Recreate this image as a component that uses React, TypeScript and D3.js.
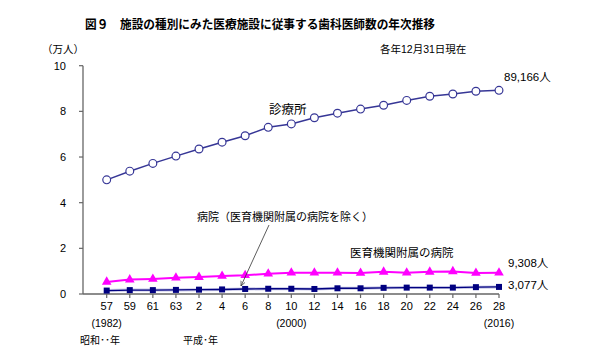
import React from "react";
import * as d3 from "d3";

const categories = ["57","59","61","63","2","4","6","8","10","12","14","16","18","20","22","24","26","28"];
const clinic = [5.0,5.38,5.72,6.04,6.35,6.65,6.93,7.3,7.45,7.72,7.92,8.1,8.27,8.48,8.66,8.76,8.88,8.92];
const univHospital = [0.53,0.63,0.66,0.71,0.74,0.79,0.82,0.89,0.93,0.93,0.93,0.92,0.97,0.93,0.97,0.99,0.92,0.93];
const otherHospital = [0.15,0.17,0.17,0.18,0.19,0.2,0.22,0.23,0.23,0.22,0.25,0.25,0.27,0.28,0.28,0.28,0.3,0.31];
const yTicks = [0,2,4,6,8,10];
const yearNotes = [{ cat: "57", text: "(1982)" },{ cat: "10", text: "(2000)" },{ cat: "28", text: "(2016)" }];

const W = 604, H = 357;
const FONT = "'Liberation Sans', 'Noto Sans CJK JP', sans-serif";
const JP = "'Noto Sans CJK JP', sans-serif";

export default function App() {
  const x = d3.scalePoint<string>().domain(categories).range([106.7, 499]).padding(0);
  const y = d3.scaleLinear().domain([0, 10]).range([294, 65.7]);
  const axisX0 = 83;
  const line = d3.line<number>().x((_, i) => x(categories[i])!).y((d) => y(d));
  const tri = d3.symbol().type(d3.symbolTriangle).size(40)()!;

  return (
    <svg width={W} height={H} style={{ position: "absolute", left: 0, top: 0, background: "#fff" }} fontFamily={FONT}>
      <defs>
        <marker id="arr" viewBox="0 0 10 10" refX="9" refY="5" markerWidth="7" markerHeight="7" orient="auto">
          <path d="M0,1 L9,5 L0,9" fill="none" stroke="#333" strokeWidth="1.2" />
        </marker>
      </defs>
      <text x={260} y={29} textAnchor="middle" fontFamily={JP} fontWeight="bold" fontSize={12.5} textLength={350} lengthAdjust="spacingAndGlyphs">図９　施設の種別にみた医療施設に従事する歯科医師数の年次推移</text>
      <text x={42} y={53} fontFamily={JP} fontSize={10.5}>（万人）</text>
      <text x={380} y={53} fontSize={10.5}>各年12月31日現在</text>

      {/* axes */}
      <line x1={axisX0} x2={axisX0} y1={y(10)} y2={y(0)} stroke="#666" strokeWidth={1.3} />
      <line x1={axisX0} x2={x("28")!} y1={y(0)} y2={y(0)} stroke="#666" strokeWidth={1.3} />
      {yTicks.map((t) => (
        <g key={t}>
          <line x1={axisX0 - 4} x2={axisX0} y1={y(t)} y2={y(t)} stroke="#666" strokeWidth={1.2} />
          <text x={66} y={y(t) + 4} textAnchor="end" fontSize={11}>{t}</text>
        </g>
      ))}
      {categories.map((c) => (
        <g key={c}>
          <line x1={x(c)!} x2={x(c)!} y1={y(0)} y2={y(0) + 4} stroke="#666" strokeWidth={1.2} />
          <text x={x(c)!} y={310} textAnchor="middle" fontSize={11}>{c}</text>
        </g>
      ))}
      {yearNotes.map((n) => (
        <text key={n.text} x={x(n.cat)!} y={327} textAnchor="middle" fontSize={10.5}>{n.text}</text>
      ))}
      <text x={80} y={344} fontFamily={JP} fontSize={10}>昭和･･年</text>
      <text x={183} y={344} fontFamily={JP} fontSize={10}>平成･年</text>

      {/* clinic */}
      <path d={line(clinic)!} fill="none" stroke="#363696" strokeWidth={1.5} />
      {clinic.map((v, i) => (
        <circle key={i} cx={x(categories[i])!} cy={y(v)} r={3.9} fill="#fff" stroke="#363696" strokeWidth={1.2} />
      ))}

      {/* univ hospital */}
      <path d={line(univHospital)!} fill="none" stroke="#ff00ff" strokeWidth={2} />
      {univHospital.map((v, i) => (
        <path key={i} d={tri} transform={`translate(${x(categories[i])},${y(v)})`} fill="#ff00ff" />
      ))}

      {/* other hospital */}
      <path d={line(otherHospital)!} fill="none" stroke="#8888cc" strokeWidth={3} opacity={0.5} />
      <path d={line(otherHospital)!} fill="none" stroke="#000080" strokeWidth={1.4} />
      {otherHospital.map((v, i) => (
        <rect key={i} x={x(categories[i])! - 3} y={y(v) - 3} width={6} height={6} fill="#000080" />
      ))}

      {/* labels */}
      <text x={269} y={114} fontFamily={JP} fontSize={12.5}>診療所</text>
      <text x={504} y={81} fontSize={11.5}>89,166人</text>
      <text x={197} y={221} fontFamily={JP} fontSize={11}>病院（医育機関附属の病院を除く）</text>
      <text x={350} y={257} fontFamily={JP} fontSize={11.5}>医育機関附属の病院</text>
      <text x={508} y={267} fontSize={11.5}>9,308人</text>
      <text x={508} y={289} fontSize={11.5}>3,077人</text>
      <line x1={269} y1={225} x2={241} y2={286} stroke="#333" strokeWidth={0.8} markerEnd="url(#arr)" />
    </svg>
  );
}
